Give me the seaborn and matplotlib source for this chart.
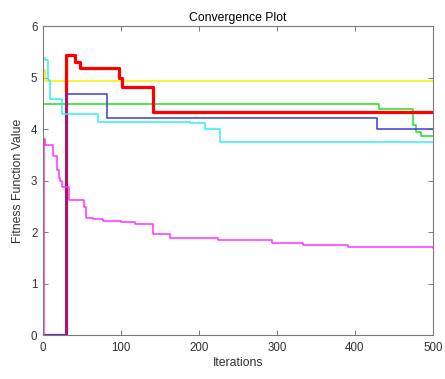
import matplotlib
matplotlib.use("Agg")
import matplotlib.pyplot as plt
import seaborn as sns
import pandas as pd

# Best fitness per iteration for each run, stored as step change points
yellow_iter = [0, 3, 500]
yellow_val = [5.15, 4.93, 4.93]

green_iter = [0, 431, 474, 478, 484, 500]
green_val = [4.49, 4.39, 4.08, 3.95, 3.87, 3.87]

red_iter = [0, 30, 41, 47, 98, 101, 141, 500]
red_val = [0.0, 5.43, 5.31, 5.18, 4.99, 4.81, 4.34, 4.34]

blue_iter = [0, 30, 82, 428, 500]
blue_val = [0.0, 4.68, 4.21, 4.01, 4.01]

cyan_iter = [0, 3, 6, 7, 9, 24, 71, 188, 208, 227, 500]
cyan_val = [5.39, 5.34, 5.18, 4.95, 4.58, 4.30, 4.14, 4.11, 4.01, 3.75, 3.75]

magenta_iter = [0, 1, 3, 13, 18, 20, 22, 24, 33, 52, 55, 64, 77, 100, 118,
                141, 163, 225, 294, 333, 391, 500]
magenta_val = [0.0, 3.80, 3.70, 3.47, 3.20, 3.05, 3.00, 2.88, 2.62, 2.48, 2.28,
               2.26, 2.22, 2.19, 2.15, 1.97, 1.88, 1.84, 1.79, 1.75, 1.71, 1.70]

x_ticks = [0, 100, 200, 300, 400, 500]
y_ticks = [0, 1, 2, 3, 4, 5, 6]

series = [
    (yellow_iter, yellow_val, "#f7f000", 1.1),
    (green_iter, green_val, "#1fe01f", 1.1),
    (red_iter, red_val, "#ff0000", 2.3),
    (blue_iter, blue_val, "#3a3ad8", 1.1),
    (cyan_iter, cyan_val, "#2ff0f0", 1.1),
    (magenta_iter, magenta_val, "#ff33ff", 1.1),
]

sns.set_theme(style="white")
plt.rcParams["font.family"] = ["Liberation Sans", "DejaVu Sans"]

fig = plt.figure(figsize=(4.45, 3.79), dpi=100)
ax = fig.add_axes([0.0966, 0.116, 0.8764, 0.815])

for it, val, col, lw in series:
    df = pd.DataFrame({"Iterations": it, "Fitness": val})
    sns.lineplot(data=df, x="Iterations", y="Fitness", ax=ax, color=col,
                 linewidth=lw, drawstyle="steps-post", estimator=None,
                 sort=False)

ax.set_xlim(0, 500)
ax.set_ylim(0, 6)
ax.set_xticks(x_ticks)
ax.set_yticks(y_ticks)

text_col = "#303030"
ax.set_title("Convergence Plot", fontsize=8.8, color="black", pad=4)
ax.set_xlabel("Iterations", fontsize=8.8, color=text_col, labelpad=2)
ax.set_ylabel("Fitness Function Value", fontsize=8.8, color=text_col, labelpad=5)

for sp in ax.spines.values():
    sp.set_color("#7a7a7a")
    sp.set_linewidth(0.8)
ax.tick_params(direction="in", length=3.5, width=0.7, color="#7a7a7a",
               labelsize=8.3, labelcolor=text_col, top=True, right=True,
               bottom=True, left=True)
ax.tick_params(axis="x", pad=5)
ax.tick_params(axis="y", pad=4)

fig.savefig("out.png", dpi=100, facecolor="white")
